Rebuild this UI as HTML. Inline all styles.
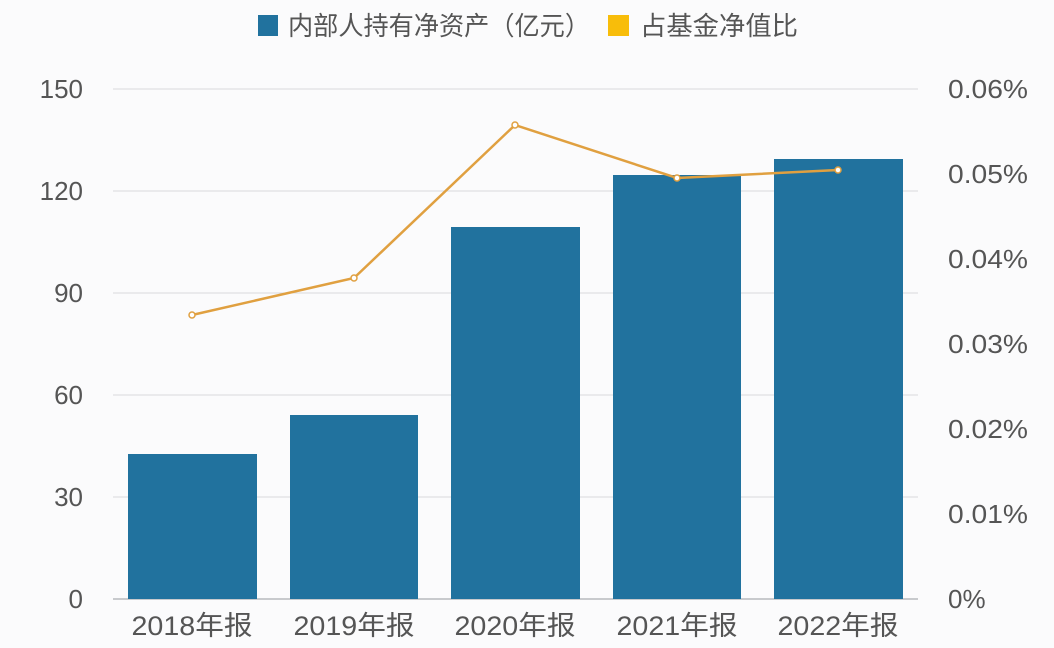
<!DOCTYPE html>
<html><head><meta charset="utf-8"><style>
body{margin:0;background:#fbfbfc;}
svg{display:block;font-family:"Liberation Sans","Noto Sans CJK SC",sans-serif;}
</style></head><body>
<svg width="1054" height="648" viewBox="0 0 1054 648">
<rect width="1054" height="648" fill="#fbfbfc"/>
<rect x="258" y="15" width="20" height="21" fill="#21729e"/>
<text x="288" y="35" font-size="26" fill="#555" textLength="302" lengthAdjust="spacingAndGlyphs">内部人持有净资产（亿元）</text>
<rect x="608" y="15" width="21" height="21" fill="#f8bd0a"/>
<text x="640" y="35" font-size="26" fill="#555" textLength="158" lengthAdjust="spacingAndGlyphs">占基金净值比</text>
<g stroke="#d8dadd" stroke-width="1">
<line x1="113" x2="918" y1="89" y2="89"/><line x1="113" x2="918" y1="191" y2="191"/>
<line x1="113" x2="918" y1="293" y2="293"/><line x1="113" x2="918" y1="395" y2="395"/>
<line x1="113" x2="918" y1="497" y2="497"/><line x1="113" x2="918" y1="599" y2="599" stroke="#c8cacd" stroke-width="2"/>
</g>
<g font-size="26" fill="#555" text-anchor="end">
<text x="83" y="98">150</text><text x="83" y="200">120</text><text x="83" y="302">90</text>
<text x="83" y="404">60</text><text x="83" y="506">30</text><text x="83" y="608">0</text>
</g>
<g font-size="26" fill="#555">
<text x="948" y="98" textLength="80" lengthAdjust="spacingAndGlyphs">0.06%</text><text x="948" y="183" textLength="80" lengthAdjust="spacingAndGlyphs">0.05%</text><text x="948" y="268" textLength="80" lengthAdjust="spacingAndGlyphs">0.04%</text>
<text x="948" y="353" textLength="80" lengthAdjust="spacingAndGlyphs">0.03%</text><text x="948" y="438" textLength="80" lengthAdjust="spacingAndGlyphs">0.02%</text><text x="948" y="523" textLength="80" lengthAdjust="spacingAndGlyphs">0.01%</text><text x="948" y="608">0%</text>
</g>
<g fill="#21729e">
<rect x="128" y="454" width="129" height="145"/>
<rect x="290" y="415" width="128" height="184"/>
<rect x="451" y="227" width="129" height="372"/>
<rect x="613" y="175" width="128" height="424"/>
<rect x="774" y="159" width="129" height="440"/>
</g>
<polyline points="192,315 354,278 515,125 677,178 838,170" fill="none" stroke="#e0a040" stroke-width="2.5"/>
<g fill="#fff" stroke="#e0a040" stroke-width="1.5">
<circle cx="192" cy="315" r="3"/><circle cx="354" cy="278" r="3"/><circle cx="515" cy="125" r="3"/><circle cx="677" cy="178" r="3"/><circle cx="838" cy="170" r="3"/>
</g>
<g font-size="27" fill="#555" text-anchor="middle">
<text x="192" y="635" textLength="121" lengthAdjust="spacingAndGlyphs">2018年报</text><text x="354" y="635" textLength="121" lengthAdjust="spacingAndGlyphs">2019年报</text><text x="515" y="635" textLength="121" lengthAdjust="spacingAndGlyphs">2020年报</text><text x="677" y="635" textLength="121" lengthAdjust="spacingAndGlyphs">2021年报</text><text x="838" y="635" textLength="121" lengthAdjust="spacingAndGlyphs">2022年报</text>
</g>
</svg>
</body></html>
